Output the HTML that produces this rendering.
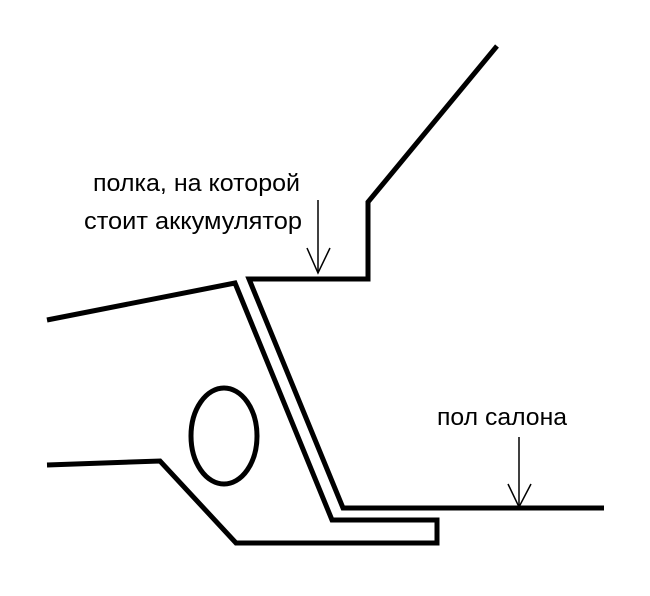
<!DOCTYPE html>
<html><head><meta charset="utf-8"><style>html,body{margin:0;padding:0;background:#fff}</style></head>
<body>
<svg width="650" height="591" viewBox="0 0 650 591" xmlns="http://www.w3.org/2000/svg">
<g fill="none" stroke="#000" stroke-width="5" stroke-linejoin="miter">
<polyline points="47,320 235,283 332,520 437,520 437,543 236,543 160,461 47,465"/>
<polyline points="604,508 343,508 249,279 368,279 368,202 497,46"/>
<ellipse cx="224" cy="436" rx="33" ry="48"/>
</g>
<g fill="none" stroke="#000" stroke-width="1.5">
<line x1="318" y1="200" x2="318" y2="273"/>
<polyline points="307,248 318,273 330,248"/>
<line x1="519" y1="437" x2="519" y2="507"/>
<polyline points="508,484 519,507 531,484"/>
</g>
<g font-family="Liberation Sans, sans-serif" font-size="24" fill="#000">
<text x="93" y="191" textLength="207" lengthAdjust="spacingAndGlyphs">полка, на которой</text>
<text x="84" y="229" textLength="218" lengthAdjust="spacingAndGlyphs">стоит аккумулятор</text>
<text x="437" y="425" textLength="130" lengthAdjust="spacingAndGlyphs">пол салона</text>
</g>
</svg>
</body></html>
